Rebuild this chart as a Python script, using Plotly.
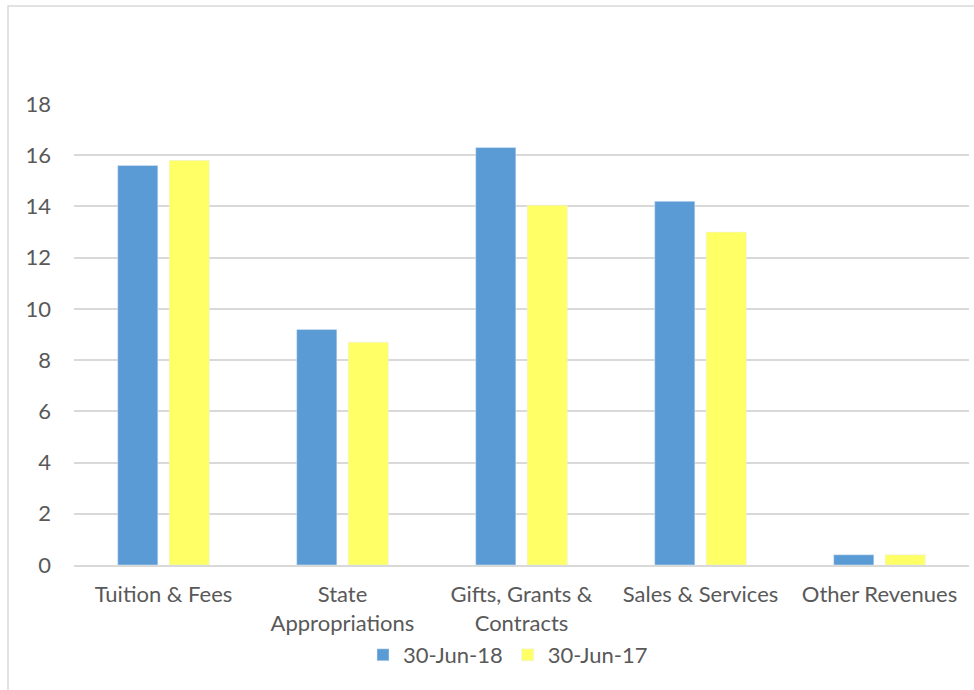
import plotly.graph_objects as go

categories = ["Tuition & Fees", "State<br>Appropriations", "Gifts, Grants &<br>Contracts",
              "Sales & Services", "Other Revenues"]
series_2018 = [15.6, 9.2, 16.3, 14.2, 0.4]
series_2017 = [15.8, 8.7, 14.05, 13.0, 0.4]
y_ticks = [0, 2, 4, 6, 8, 10, 12, 14, 16, 18]

W, H = 974, 690
L, R, T, B = 74, 5, 104, 125
pw, ph = W - L - R, H - T - B

fig = go.Figure()
fig.add_trace(go.Bar(x=categories, y=series_2018, name="30-Jun-18", marker_color="#5b9bd5"))
fig.add_trace(go.Bar(x=categories, y=series_2017, name="30-Jun-17", marker_color="#ffff66"))

font = dict(family="Lato, Open Sans, sans-serif", size=22, color="#595959")

fig.update_layout(
    width=W, height=H,
    margin=dict(l=L, r=R, t=T, b=B),
    paper_bgcolor="white", plot_bgcolor="white",
    barmode="group", bargap=0.425, bargroupgap=0.22,
    font=font,
    showlegend=True,
    legend=dict(orientation="h", x=(508 - L) / pw, xanchor="center", y=-(655 - 565) / ph,
                yanchor="middle", font=font, itemwidth=30, traceorder="normal"),
    xaxis=dict(showgrid=False, showline=True, linecolor="#d9d9d9", linewidth=1.5,
               tickfont=font, ticklabelstandoff=9),
    yaxis=dict(range=[0, 18], tickvals=y_ticks, showgrid=True, gridcolor="#d9d9d9",
               gridwidth=1.5, zeroline=False, showline=False, tickfont=font,
               ticklabelstandoff=22),
    shapes=[dict(type="rect", xref="paper", yref="paper",
                 x0=(8 - L) / pw, x1=(990 - L) / pw,
                 y0=(ph + T - 700) / ph, y1=(ph + T - 6) / ph,
                 line=dict(color="#d9d9d9", width=1.5), fillcolor="rgba(0,0,0,0)", layer="below")],
)

fig.write_html("out.html", config={"displayModeBar": False},
               post_script="document.body.style.margin='0';")
